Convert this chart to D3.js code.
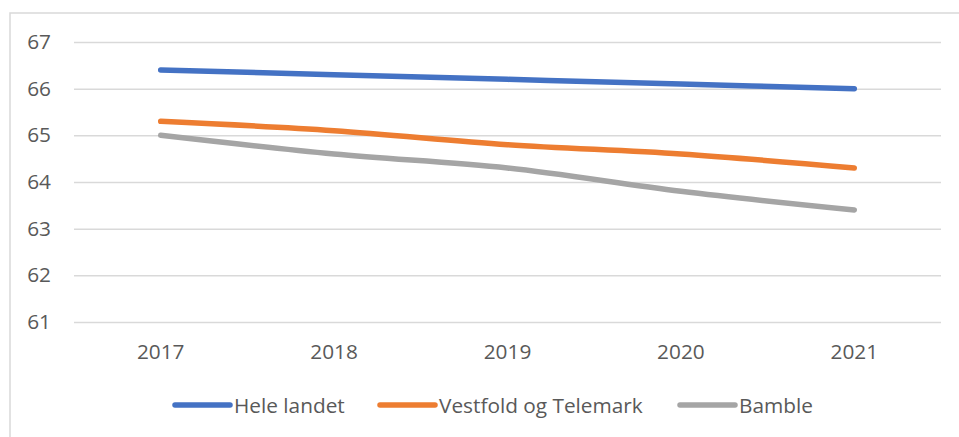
<!DOCTYPE html>
<html><head><meta charset="utf-8">
<script src="https://cdn.jsdelivr.net/npm/d3@7"></script>
<style>body{margin:0;background:#fff}svg{display:block}</style>
</head><body><svg id="c" width="959" height="437"></svg>
<script>
const years = ["2017","2018","2019","2020","2021"];
const heleLandet = [66.4, 66.3, 66.2, 66.1, 66.0];
const vestfoldTelemark = [65.3, 65.1, 64.8, 64.6, 64.3];
const bamble = [65.0, 64.6, 64.3, 63.8, 63.4];
const yTicks = [61, 62, 63, 64, 65, 66, 67];
const seriesNames = ["Hele landet", "Vestfold og Telemark", "Bamble"];
const seriesColors = ["#4472C4", "#ED7D31", "#A5A5A5"];

const series = [heleLandet, vestfoldTelemark, bamble].map((v, i) => ({name: seriesNames[i], color: seriesColors[i], values: v}));
const svg = d3.select("#c");
const font = "'Open Sans', sans-serif";
const fontSize = "20.8px";
const textColor = "#595959";

svg.append("rect").attr("x", 10).attr("y", 13).attr("width", 1000).attr("height", 1000)
  .attr("fill", "none").attr("stroke", "#d9d9d9").attr("stroke-width", 1.5);

const x = d3.scaleBand().domain(years).range([74, 941]);
const y = d3.scaleLinear().domain([61, 67]).range([322, 42]);

const yAxis = svg.append("g").attr("transform", "translate(74,0)")
  .call(d3.axisLeft(y).tickValues(yTicks).tickSize(-867).tickPadding(23).tickFormat(d3.format("d")));
yAxis.select(".domain").remove();
yAxis.selectAll(".tick line").attr("stroke", "#d9d9d9").attr("stroke-width", 1.5);
yAxis.selectAll(".tick text").attr("fill", textColor).style("font-family", font).style("font-size", fontSize);

const xAxis = svg.append("g").attr("transform", "translate(0,322)")
  .call(d3.axisBottom(x).tickSize(0).tickPadding(22));
xAxis.select(".domain").remove();
xAxis.selectAll(".tick text").attr("fill", textColor).style("font-family", font).style("font-size", fontSize);

const line = d3.line().x((d, i) => x(years[i]) + x.bandwidth() / 2).y(d => y(d)).curve(d3.curveCatmullRom.alpha(0.5));
svg.append("g").selectAll("path").data(series).join("path")
  .attr("d", d => line(d.values)).attr("fill", "none").attr("stroke", d => d.color)
  .attr("stroke-width", 5.5).attr("stroke-linecap", "round").attr("stroke-linejoin", "round");

const legendX = [175, 380, 680];
const lg = svg.append("g").selectAll("g").data(series).join("g")
  .attr("transform", (d, i) => `translate(${legendX[i]},405)`);
lg.append("line").attr("x1", 0).attr("x2", 55).attr("stroke", d => d.color).attr("stroke-width", 5.5).attr("stroke-linecap", "round");
lg.append("text").attr("x", 59).attr("y", 7.5).attr("fill", textColor)
  .style("font-family", font).style("font-size", fontSize).text(d => d.name);
</script></body></html>
